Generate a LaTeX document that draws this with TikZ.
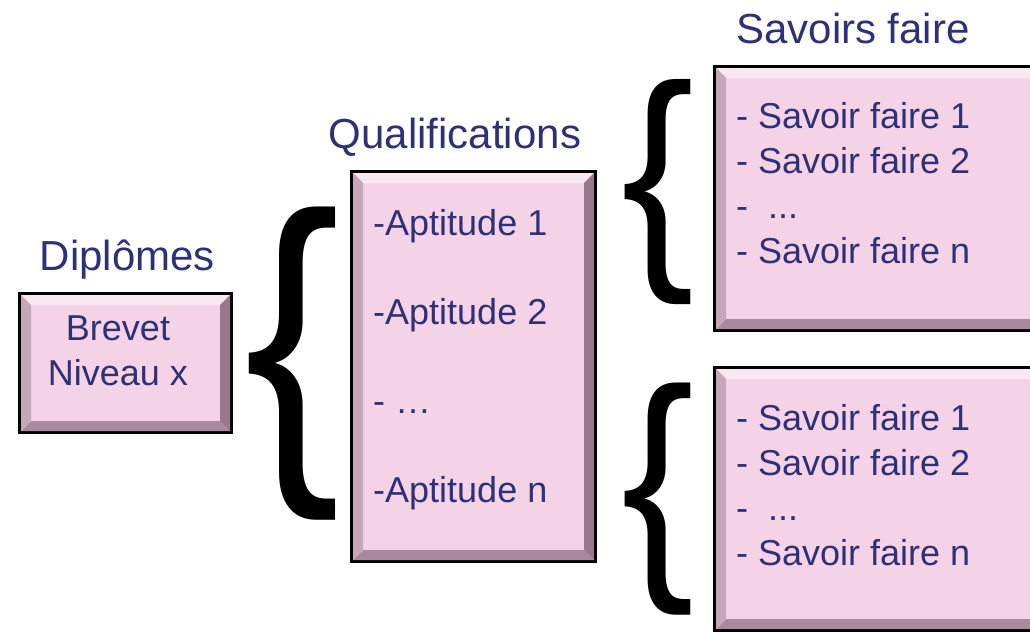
\documentclass[tikz,border=0pt]{standalone}
\usepackage{fontspec}
\setmainfont{Liberation Sans}
\usepackage{graphicx}
\definecolor{txt}{HTML}{2E3178}
\definecolor{boxfill}{HTML}{F5D3E6}
\definecolor{bvtop}{HTML}{F8E8F1}
\definecolor{bvleft}{HTML}{C7A6B8}
\definecolor{bvright}{HTML}{98788A}
\definecolor{bvbot}{HTML}{A98A9C}
\tikzset{
  bbox/.style={draw=black, line width=3pt, fill=boxfill, inner sep=0pt, outer sep=0pt},
  titletext/.style={text=txt, font=\fontsize{42}{50}\selectfont, inner sep=0pt, anchor=base},
  bodytext/.style={text=txt, font=\fontsize{36}{44}\selectfont, inner sep=0pt, anchor=base west},
  bodycenter/.style={text=txt, font=\fontsize{36}{44}\selectfont, inner sep=0pt, anchor=base},
  bracenode/.style={inner sep=0pt, outer sep=0pt, anchor=center},
}
\newcommand\bevel[1]{%
  \fill[bvtop] ([shift={(1.5,1.5)}]#1.north west) -- ([shift={(-1.5,1.5)}]#1.north east) -- ([shift={(-11.5,11.5)}]#1.north east) -- ([shift={(11.5,11.5)}]#1.north west) -- cycle;
  \fill[bvbot] ([shift={(1.5,-1.5)}]#1.south west) -- ([shift={(-1.5,-1.5)}]#1.south east) -- ([shift={(-11.5,-11.5)}]#1.south east) -- ([shift={(11.5,-11.5)}]#1.south west) -- cycle;
  \fill[bvleft] ([shift={(1.5,1.5)}]#1.north west) -- ([shift={(11.5,11.5)}]#1.north west) -- ([shift={(11.5,-11.5)}]#1.south west) -- ([shift={(1.5,-1.5)}]#1.south west) -- cycle;
  \fill[bvright] ([shift={(-1.5,1.5)}]#1.north east) -- ([shift={(-11.5,11.5)}]#1.north east) -- ([shift={(-11.5,-11.5)}]#1.south east) -- ([shift={(-1.5,-1.5)}]#1.south east) -- cycle;
}
\begin{document}
\begin{tikzpicture}[x=1pt,y=-1pt]
\useasboundingbox (0,0) rectangle (1030,632);
\clip (0,0) rectangle (1030,632);
\fill[white] (0,0) rectangle (1030,632);

% boxes
\node[bbox, minimum width=212pt, minimum height=139pt] (dip) at (125.5,363) {};
\node[bbox, minimum width=244pt, minimum height=390pt] (qual) at (473.5,366.5) {};
\node[bbox, minimum width=334pt, minimum height=264pt] (sf1) at (881.5,198.5) {};
\node[bbox, minimum width=334pt, minimum height=263pt] (sf2) at (881.5,499) {};
\bevel{dip}\bevel{qual}\bevel{sf1}\bevel{sf2}

% titles
\node[titletext] (tdip) at (127.5,270) {Diplômes};
\node[titletext] (tqual) at (455,148) {Qualifications};
\node[titletext] (tsf) at (853,43) {Savoirs faire};

% box 1
\node[bodycenter] (d1) at (118,340) {Brevet};
\node[bodycenter] (d2) at (118,385) {Niveau x};

% box 2
\node[bodytext] (q1) at (373,235) {-Aptitude 1};
\node[bodytext] (q2) at (373,324) {-Aptitude 2};
\node[bodytext] (q3) at (373,413) {- …};
\node[bodytext] (q4) at (373,502) {-Aptitude n};

% box 3
\node[bodytext] (a1) at (736,128) {- Savoir faire 1};
\node[bodytext] (a2) at (736,173) {- Savoir faire 2};
\node[bodytext] (a3) at (736,218) {-\ \ ...};
\node[bodytext] (a4) at (736,263) {- Savoir faire n};

% box 4
\node[bodytext] (b1) at (736,430) {- Savoir faire 1};
\node[bodytext] (b2) at (736,475) {- Savoir faire 2};
\node[bodytext] (b3) at (736,520) {-\ \ ...};
\node[bodytext] (b4) at (736,565) {- Savoir faire n};

% braces
\node[bracenode] (br1) at (293,363.5) {\resizebox*{96pt}{313pt}{\{}};
\node[bracenode] (br2) at (658,192.5) {\resizebox*{73pt}{225pt}{\{}};
\node[bracenode] (br3) at (658,499) {\resizebox*{73pt}{232pt}{\{}};
\end{tikzpicture}
\end{document}
